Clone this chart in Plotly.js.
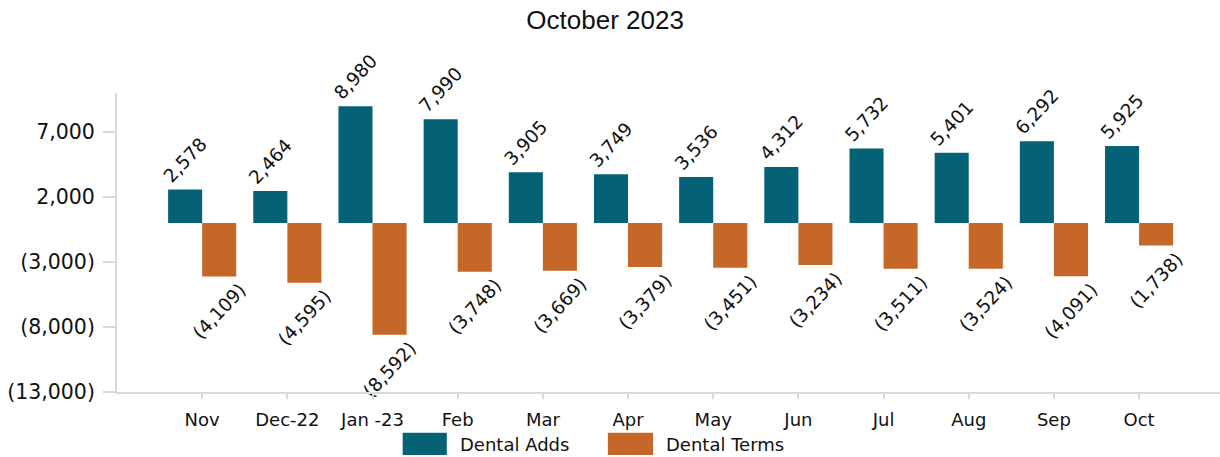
<!DOCTYPE html>
<html>
<head>
<meta charset="utf-8">
<script src="https://cdn.plot.ly/plotly-3.0.1.min.js"></script>
<style>html,body{margin:0;padding:0;background:#fff;}#chart{width:1220px;height:457px;}</style>
</head>
<body>
<div id="chart"></div>
<script>
var months = ["Nov", "Dec-22", "Jan -23", "Feb", "Mar", "Apr", "May", "Jun", "Jul", "Aug", "Sep", "Oct"];
var dentalAdds = [2578, 2464, 8980, 7990, 3905, 3749, 3536, 4312, 5732, 5401, 6292, 5925];
var dentalTerms = [-4109, -4595, -8592, -3748, -3669, -3379, -3451, -3234, -3511, -3524, -4091, -1738];
var seriesNames = ["Dental Adds", "Dental Terms"];
var seriesColors = ["#046176", "#C56728"];
var yTickVals = [7000, 2000, -3000, -8000, -13000];
var yTickText = ["7,000", "2,000", "(3,000)", "(8,000)", "(13,000)"];
var chartTitle = "October 2023";

function fmt(v) {
  var s = Math.abs(v).toLocaleString("en-US");
  return v < 0 ? "(" + s + ")" : s;
}

var labelFont = {family: "DejaVu Sans", size: 18.5, color: "#111"};
var traces = [dentalAdds, dentalTerms].map(function (vals, i) {
  return {
    type: "bar",
    x: months,
    y: vals,
    name: seriesNames[i],
    marker: {color: seriesColors[i], line: {width: 0}},
    text: vals.map(fmt),
    textposition: "outside",
    textangle: -47,
    constraintext: "none",
    cliponaxis: false,
    textfont: labelFont,
    showlegend: false,
    hoverinfo: "x+y"
  };
});

var legShapes = [], legAnn = [];
var boxX = [[0.259, 0.299], [0.445, 0.486]];
var txtX = [0.309, 0.496];
seriesNames.forEach(function (n, i) {
  legShapes.push({type: "rect", xref: "paper", yref: "paper", x0: boxX[i][0], x1: boxX[i][1], y0: -0.211, y1: -0.136,
    fillcolor: seriesColors[i], line: {width: 0}});
  legAnn.push({xref: "paper", yref: "paper", x: txtX[i], y: -0.174, xanchor: "left", yanchor: "middle",
    text: n, showarrow: false, font: {family: "DejaVu Sans", size: 18, color: "#111"}});
});

var layout = {
  width: 1220, height: 457,
  margin: {l: 117, r: 0, t: 93, b: 65},
  paper_bgcolor: "#fff", plot_bgcolor: "#fff",
  title: {text: chartTitle, font: {family: "Liberation Sans", size: 26, color: "#111"},
    xref: "container", x: 0.496, xanchor: "center", yref: "container", y: 0.956, yanchor: "middle"},
  barmode: "group", bargap: 0.2, bargroupgap: 0,
  xaxis: {type: "category", range: [-1, 11.95], showgrid: false, zeroline: false,
    showline: true, linecolor: "#d9d9d9", linewidth: 2,
    ticks: "outside", ticklen: 5, tickcolor: "#d9d9d9", tickwidth: 2, ticklabelstandoff: 5,
    tickfont: {family: "DejaVu Sans", size: 18, color: "#111"}},
  yaxis: {range: [-13000, 10000], showgrid: false, zeroline: false,
    showline: true, linecolor: "#d9d9d9", linewidth: 2,
    tickmode: "array", tickvals: yTickVals, ticktext: yTickText,
    ticks: "outside", ticklen: 12, tickcolor: "#d9d9d9", tickwidth: 2, ticklabelstandoff: 4,
    tickfont: {family: "DejaVu Sans", size: 20.5, color: "#111"}},
  shapes: legShapes,
  annotations: legAnn,
  showlegend: false
};

Plotly.newPlot("chart", traces, layout, {displayModeBar: false, staticPlot: true});
</script>
</body>
</html>
